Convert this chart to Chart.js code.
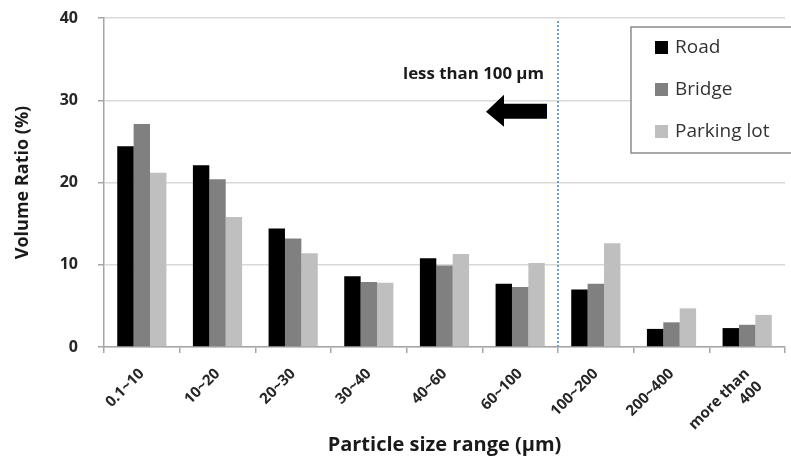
<!DOCTYPE html>
<html>
<head>
<meta charset="utf-8">
<script src="https://cdn.jsdelivr.net/npm/chart.js@4"></script>
<style>
  html, body { margin: 0; padding: 0; background: #fff; }
  canvas { display: block; }
</style>
</head>
<body>
<canvas id="sizeChart" width="791" height="461"></canvas>
<script>
// Particle size categories and volume ratios (%)
const categories = ['0.1~10', '10~20', '20~30', '30~40', '40~60', '60~100', '100~200', '200~400', ['more than', '400']];
const roadValues = [24.4, 22.1, 14.4, 8.6, 10.8, 7.7, 7.0, 2.2, 2.3];
const bridgeValues = [27.1, 20.4, 13.2, 7.9, 9.9, 7.3, 7.7, 3.0, 2.7];
const parkingValues = [21.2, 15.8, 11.4, 7.8, 11.3, 10.2, 12.6, 4.7, 3.9];
const seriesNames = ['Road', 'Bridge', 'Parking lot'];
const seriesColors = ['#000000', '#808080', '#bfbfbf'];
const yTicks = [0, 10, 20, 30, 40];

// annotation text above the arrow
const noteText = 'less than 100 \u03bcm';

const FONT = '"Open Sans", "Noto Sans", sans-serif';

const annotations = {
    id: 'annotations',
    afterDatasetsDraw(chart) {
        const { ctx, chartArea, scales } = chart;
        const xs = scales.x, ys = scales.y;
        // boundary between 60~100 and 100~200
        const bx = (xs.getPixelForValue(5) + xs.getPixelForValue(6)) / 2;

        ctx.save();
        // dotted divider
        ctx.strokeStyle = '#6a9fd8';
        ctx.lineWidth = 2;
        ctx.setLineDash([2, 2]);
        ctx.beginPath();
        ctx.moveTo(bx, chartArea.top + 3);
        ctx.lineTo(bx, chartArea.bottom);
        ctx.stroke();
        ctx.setLineDash([]);

        // arrow pointing left
        const ay = ys.getPixelForValue(28.6);
        const right = bx - 11;
        const tip = right - 61;
        const headBase = tip + 18;
        ctx.fillStyle = '#000';
        ctx.beginPath();
        ctx.moveTo(tip, ay);
        ctx.lineTo(headBase, ay - 17);
        ctx.lineTo(headBase, ay - 8);
        ctx.lineTo(right, ay - 8);
        ctx.lineTo(right, ay + 7);
        ctx.lineTo(headBase, ay + 7);
        ctx.lineTo(headBase, ay + 15);
        ctx.closePath();
        ctx.fill();

        // note text (squeezed to a condensed look)
        const ty = ys.getPixelForValue(33.1);
        ctx.font = 'bold 16px ' + FONT;
        const w = ctx.measureText(noteText).width;
        const target = 141;
        ctx.translate(bx - 155, ty);
        ctx.scale(target / w, 1);
        ctx.textAlign = 'left';
        ctx.textBaseline = 'middle';
        ctx.fillStyle = '#1a1a1a';
        ctx.fillText(noteText, 0, 0);
        ctx.restore();

        // legend box
        ctx.save();
        ctx.fillStyle = '#fff';
        ctx.strokeStyle = '#8c8c8c';
        ctx.lineWidth = 1.5;
        ctx.fillRect(631, 27, 170, 126);
        ctx.strokeRect(631, 27, 170, 126);
        ctx.font = '19px ' + FONT;
        ctx.textBaseline = 'middle';
        ctx.textAlign = 'left';
        seriesNames.forEach((name, i) => {
            const cy = 48 + i * 42;
            ctx.fillStyle = seriesColors[i];
            ctx.fillRect(655, cy - 7, 13, 13);
            ctx.fillStyle = '#333';
            ctx.fillText(name, 675, cy);
        });
        ctx.restore();
    }
};

const ctx = document.getElementById('sizeChart').getContext('2d');

const chart = new Chart(ctx, {
    type: 'bar',
    data: {
        labels: categories,
        datasets: [
            { label: seriesNames[0], data: roadValues, backgroundColor: seriesColors[0] },
            { label: seriesNames[1], data: bridgeValues, backgroundColor: seriesColors[1] },
            { label: seriesNames[2], data: parkingValues, backgroundColor: seriesColors[2] }
        ]
    },
    options: {
        responsive: false,
        animation: false,
        layout: { padding: { top: 18, right: 6, left: 0, bottom: 0 } },
        datasets: {
            bar: { categoryPercentage: 0.65, barPercentage: 1.0, borderWidth: 0 }
        },
        plugins: {
            legend: { display: false },
            tooltip: { enabled: false }
        },
        scales: {
            x: {
                afterFit: (s) => { s.height = 114; },
                border: { color: '#a6a6a6', width: 1.5 },
                grid: { drawOnChartArea: false, color: '#a6a6a6', tickLength: 6, lineWidth: 1.5 },
                ticks: {
                    minRotation: 45,
                    maxRotation: 45,
                    padding: 12,
                    color: '#262626',
                    font: { family: FONT, size: 15, weight: 'bold' }
                },
                title: {
                    display: true,
                    text: 'Particle size range (\u03bcm)',
                    color: '#1a1a1a',
                    font: { family: FONT, size: 20, weight: 'bold' },
                    padding: { bottom: 4 }
                }
            },
            y: {
                min: 0,
                max: 40,
                afterFit: (s) => {
                    s.width = 104;
                    // keep the tick padding from pushing the plot area down
                    s.paddingTop = 10;
                    s.paddingBottom = 0;
                },
                afterBuildTicks: (s) => { s.ticks = yTicks.map(v => ({ value: v })); },
                border: { color: '#a6a6a6', width: 1.5 },
                grid: { color: '#d9d9d9', lineWidth: 1.5, tickColor: '#a6a6a6', tickLength: 6 },
                ticks: {
                    padding: 20,
                    color: '#262626',
                    font: { family: FONT, size: 16, weight: 'bold' }
                },
                title: {
                    display: true,
                    text: 'Volume Ratio (%)',
                    color: '#1a1a1a',
                    font: { family: FONT, size: 18, weight: 'bold' },
                    padding: { top: 12 }
                }
            }
        }
    },
    plugins: [annotations]
});
</script>
</body>
</html>
